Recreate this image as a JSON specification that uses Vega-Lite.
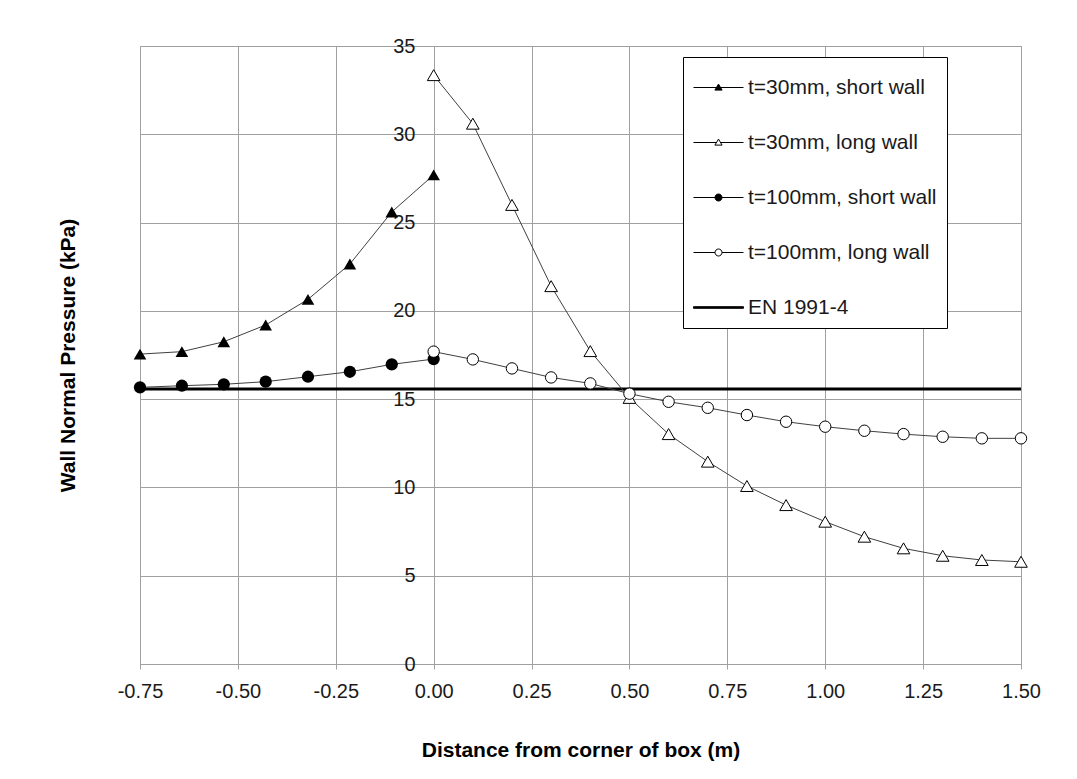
{
  "$schema": "https://vega.github.io/schema/vega-lite/v6.json",
  "width": 881,
  "height": 618,
  "autosize": {"type": "none"},
  "padding": {"left": 140, "top": 46, "right": 56, "bottom": 115},
  "background": "white",
  "config": {
    "font": "Liberation Sans",
    "view": {"stroke": "#a0a0a0", "strokeWidth": 1},
    "axis": {
      "gridColor": "#a0a0a0",
      "gridOpacity": 1,
      "gridWidth": 1,
      "domainColor": "#a0a0a0",
      "tickColor": "#a0a0a0",
      "labelColor": "#1a1a1a",
      "titleColor": "#000000",
      "labelFont": "Liberation Sans",
      "titleFont": "Liberation Sans",
      "labelFontSize": 20,
      "titleFontSize": 21,
      "titleFontWeight": "bold"
    },
    "legend": {
      "symbolStrokeColor": "#000000",
      "symbolStrokeWidth": 1,
      "symbolOpacity": 1,
      "symbolSize": 1600
    }
  },
  "datasets": {
    "series": [
      {"series": "t=30mm, short wall", "x": -0.75, "y": 17.55},
      {"series": "t=30mm, short wall", "x": -0.643, "y": 17.69},
      {"series": "t=30mm, short wall", "x": -0.536, "y": 18.25},
      {"series": "t=30mm, short wall", "x": -0.429, "y": 19.2},
      {"series": "t=30mm, short wall", "x": -0.321, "y": 20.65},
      {"series": "t=30mm, short wall", "x": -0.214, "y": 22.65},
      {"series": "t=30mm, short wall", "x": -0.107, "y": 25.6},
      {"series": "t=30mm, short wall", "x": 0, "y": 27.7},
      {"series": "t=30mm, long wall", "x": 0, "y": 33.35},
      {"series": "t=30mm, long wall", "x": 0.1, "y": 30.6},
      {"series": "t=30mm, long wall", "x": 0.2, "y": 26.0},
      {"series": "t=30mm, long wall", "x": 0.3, "y": 21.4},
      {"series": "t=30mm, long wall", "x": 0.4, "y": 17.72},
      {"series": "t=30mm, long wall", "x": 0.5, "y": 15.07},
      {"series": "t=30mm, long wall", "x": 0.6, "y": 13.02},
      {"series": "t=30mm, long wall", "x": 0.7, "y": 11.46},
      {"series": "t=30mm, long wall", "x": 0.8, "y": 10.08},
      {"series": "t=30mm, long wall", "x": 0.9, "y": 9.0},
      {"series": "t=30mm, long wall", "x": 1.0, "y": 8.06},
      {"series": "t=30mm, long wall", "x": 1.1, "y": 7.21},
      {"series": "t=30mm, long wall", "x": 1.2, "y": 6.55},
      {"series": "t=30mm, long wall", "x": 1.3, "y": 6.13},
      {"series": "t=30mm, long wall", "x": 1.4, "y": 5.89},
      {"series": "t=30mm, long wall", "x": 1.5, "y": 5.79},
      {"series": "t=100mm, short wall", "x": -0.75, "y": 15.67},
      {"series": "t=100mm, short wall", "x": -0.643, "y": 15.76},
      {"series": "t=100mm, short wall", "x": -0.536, "y": 15.84},
      {"series": "t=100mm, short wall", "x": -0.429, "y": 15.99},
      {"series": "t=100mm, short wall", "x": -0.321, "y": 16.27},
      {"series": "t=100mm, short wall", "x": -0.214, "y": 16.55},
      {"series": "t=100mm, short wall", "x": -0.107, "y": 16.97},
      {"series": "t=100mm, short wall", "x": 0, "y": 17.27},
      {"series": "t=100mm, long wall", "x": 0, "y": 17.69},
      {"series": "t=100mm, long wall", "x": 0.1, "y": 17.25},
      {"series": "t=100mm, long wall", "x": 0.2, "y": 16.74},
      {"series": "t=100mm, long wall", "x": 0.3, "y": 16.23},
      {"series": "t=100mm, long wall", "x": 0.4, "y": 15.89},
      {"series": "t=100mm, long wall", "x": 0.5, "y": 15.31},
      {"series": "t=100mm, long wall", "x": 0.6, "y": 14.85},
      {"series": "t=100mm, long wall", "x": 0.7, "y": 14.51},
      {"series": "t=100mm, long wall", "x": 0.8, "y": 14.1},
      {"series": "t=100mm, long wall", "x": 0.9, "y": 13.72},
      {"series": "t=100mm, long wall", "x": 1.0, "y": 13.44},
      {"series": "t=100mm, long wall", "x": 1.1, "y": 13.21},
      {"series": "t=100mm, long wall", "x": 1.2, "y": 13.02},
      {"series": "t=100mm, long wall", "x": 1.3, "y": 12.87},
      {"series": "t=100mm, long wall", "x": 1.4, "y": 12.78},
      {"series": "t=100mm, long wall", "x": 1.5, "y": 12.78}
    ],
    "en": [
      {"series": "EN 1991-4", "x": -0.75, "y": 15.57},
      {"series": "EN 1991-4", "x": 1.5, "y": 15.57}
    ],
    "legend": [
      {"series": "t=30mm, short wall"},
      {"series": "t=30mm, long wall"},
      {"series": "t=100mm, short wall"},
      {"series": "t=100mm, long wall"},
      {"series": "EN 1991-4"}
    ]
  },
  "layer": [
    {
      "data": {"name": "en"},
      "mark": {"type": "line", "color": "#000000", "strokeWidth": 3},
      "encoding": {
        "x": {
          "field": "x",
          "type": "quantitative",
          "scale": {"domain": [-0.75, 1.5], "nice": false, "zero": false},
          "axis": {
            "title": "Distance from corner of box (m)",
            "values": [-0.75, -0.5, -0.25, 0, 0.25, 0.5, 0.75, 1.0, 1.25, 1.5],
            "format": ".2f",
            "labelExpr": "replace(datum.label, '−', '-')",
            "grid": true,
            "ticks": true,
            "tickSize": 5,
            "labelPadding": 12,
            "labelFlush": false,
            "labelOverlap": false,
            "titlePadding": 38
          }
        },
        "y": {
          "field": "y",
          "type": "quantitative",
          "scale": {"domain": [0, 35], "nice": false},
          "axis": {
            "title": "Wall Normal Pressure (kPa)",
            "values": [0, 5, 10, 15, 20, 25, 30, 35],
            "grid": true,
            "ticks": false,
            "tickSize": 0,
            "domain": true,
            "labelPadding": -275,
            "labelOverlap": false,
            "titlePadding": 62
          }
        }
      }
    },
    {
      "data": {"name": "series"},
      "mark": {"type": "line", "color": "#404040", "strokeWidth": 1},
      "encoding": {
        "x": {"field": "x", "type": "quantitative"},
        "y": {"field": "y", "type": "quantitative"},
        "detail": {"field": "series", "type": "nominal"}
      }
    },
    {
      "data": {"name": "series"},
      "transform": [{"filter": {"field": "series", "equal": "t=30mm, short wall"}}],
      "mark": {"type": "point", "shape": "triangle-up", "filled": true, "fill": "#000000", "size": 160, "opacity": 1},
      "encoding": {
        "x": {"field": "x", "type": "quantitative"},
        "y": {"field": "y", "type": "quantitative"}
      }
    },
    {
      "data": {"name": "series"},
      "transform": [{"filter": {"field": "series", "equal": "t=30mm, long wall"}}],
      "mark": {"type": "point", "shape": "triangle-up", "filled": true, "fill": "#ffffff", "stroke": "#000000", "strokeWidth": 1, "size": 160, "opacity": 1},
      "encoding": {
        "x": {"field": "x", "type": "quantitative"},
        "y": {"field": "y", "type": "quantitative"}
      }
    },
    {
      "data": {"name": "series"},
      "transform": [{"filter": {"field": "series", "equal": "t=100mm, short wall"}}],
      "mark": {"type": "point", "shape": "circle", "filled": true, "fill": "#000000", "size": 150, "opacity": 1},
      "encoding": {
        "x": {"field": "x", "type": "quantitative"},
        "y": {"field": "y", "type": "quantitative"}
      }
    },
    {
      "data": {"name": "series"},
      "transform": [{"filter": {"field": "series", "equal": "t=100mm, long wall"}}],
      "mark": {"type": "point", "shape": "circle", "filled": true, "fill": "#ffffff", "stroke": "#000000", "strokeWidth": 1, "size": 130, "opacity": 1},
      "encoding": {
        "x": {"field": "x", "type": "quantitative"},
        "y": {"field": "y", "type": "quantitative"}
      }
    },
    {
      "data": {"name": "legend"},
      "mark": {"type": "point", "filled": true, "opacity": 0},
      "encoding": {
        "shape": {
          "field": "series",
          "type": "nominal",
          "scale": {
            "domain": ["t=30mm, short wall", "t=30mm, long wall", "t=100mm, short wall", "t=100mm, long wall", "EN 1991-4"],
            "range": [
              "M-1,0H1.5M0.25,-0.17L0.43,0.13L0.07,0.13Z",
              "M-1,0H0.15M0.35,0H1.5M0.25,-0.17L0.43,0.13L0.07,0.13Z",
              "M-1,0H1.5M0.425,0A0.175,0.175 0 1 1 0.075,0A0.175,0.175 0 1 1 0.425,0Z",
              "M-1,0H0.075M0.425,0H1.5M0.425,0A0.175,0.175 0 1 1 0.075,0A0.175,0.175 0 1 1 0.425,0Z",
              "M-1,-0.04H1.5V0.04H-1Z"
            ]
          },
          "legend": {
            "title": null,
            "orient": "none",
            "legendX": 543,
            "legendY": 11,
            "strokeColor": "#000000",
            "fillColor": "#ffffff",
            "padding": 10,
            "symbolSize": 1600,
            "symbolStrokeColor": "#000000",
            "symbolStrokeWidth": 1,
            "symbolOpacity": 1,
            "labelFont": "Liberation Sans",
            "labelFontSize": 21,
            "labelColor": "#1a1a1a",
            "labelLimit": 400,
            "labelOffset": 14,
            "rowPadding": 24,
            "encode": {
              "symbols": {
                "update": {
                  "opacity": {"value": 1},
                  "fillOpacity": {"value": 1},
                  "strokeOpacity": {"value": 1},
                  "stroke": {"value": "#000000"},
                  "strokeWidth": {"value": 1}
                }
              }
            }
          }
        },
        "fill": {
          "field": "series",
          "type": "nominal",
          "scale": {
            "domain": ["t=30mm, short wall", "t=30mm, long wall", "t=100mm, short wall", "t=100mm, long wall", "EN 1991-4"],
            "range": ["#000000", "#ffffff", "#000000", "#ffffff", "#000000"]
          },
          "legend": {
            "title": null,
            "orient": "none",
            "legendX": 543,
            "legendY": 11,
            "strokeColor": "#000000",
            "fillColor": "#ffffff",
            "padding": 10,
            "symbolSize": 1600,
            "symbolStrokeColor": "#000000",
            "symbolStrokeWidth": 1,
            "symbolOpacity": 1,
            "labelFont": "Liberation Sans",
            "labelFontSize": 21,
            "labelColor": "#1a1a1a",
            "labelLimit": 400,
            "labelOffset": 14,
            "rowPadding": 24,
            "encode": {
              "symbols": {
                "update": {
                  "opacity": {"value": 1},
                  "fillOpacity": {"value": 1},
                  "strokeOpacity": {"value": 1},
                  "stroke": {"value": "#000000"},
                  "strokeWidth": {"value": 1}
                }
              }
            }
          }
        }
      }
    }
  ]
}
